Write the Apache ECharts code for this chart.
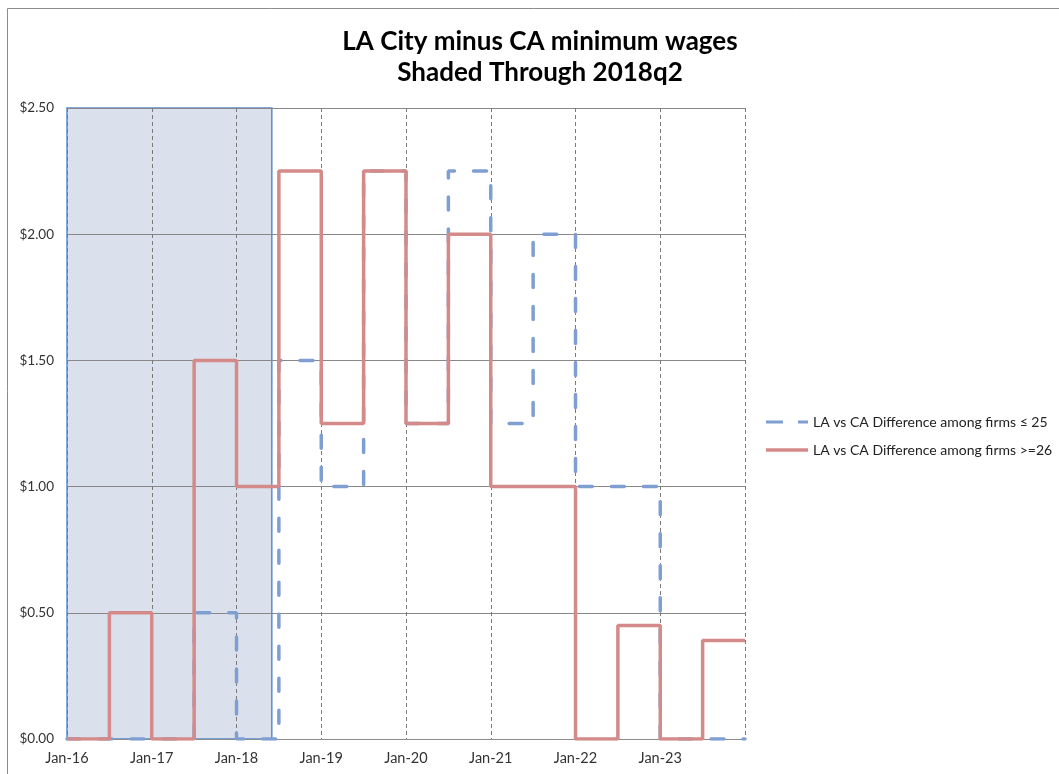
<!DOCTYPE html>
<html>
<head>
<meta charset="utf-8">
<script src="https://cdn.jsdelivr.net/npm/echarts@6/dist/echarts.min.js"></script>
<style>html,body{margin:0;padding:0;background:#fff;}#c{width:1059px;height:774px;}</style>
</head>
<body>
<div id="c"></div>
<script>
// Half-year step points (value holds until the next point)
const periods = ['Jan-16','Jul-16','Jan-17','Jul-17','Jan-18','Jul-18','Jan-19','Jul-19','Jan-20','Jul-20','Jan-21','Jul-21','Jan-22','Jul-22','Jan-23','Jul-23','Jan-24'];
const smallFirms = [0, 0, 0, 0.5, 0, 1.5, 1.0, 2.25, 1.25, 2.25, 1.25, 2.0, 1.0, 1.0, 0, 0, 0];
const largeFirms = [0, 0.5, 0, 1.5, 1.0, 2.25, 1.25, 2.25, 1.25, 2.0, 1.0, 1.0, 0, 0.45, 0, 0.39, 0.39];
const tickLabels = ['Jan-16','Jan-17','Jan-18','Jan-19','Jan-20','Jan-21','Jan-22','Jan-23'];
const yTicks = [0, 0.5, 1.0, 1.5, 2.0, 2.5];
const shadeStart = 'Jan-16';
const shadeEnd = 'Jun-18';
const seriesNames = ['LA vs CA Difference among firms \u2264 25', 'LA vs CA Difference among firms >=26'];

const monthNames = ['Jan','Feb','Mar','Apr','May','Jun','Jul','Aug','Sep','Oct','Nov','Dec'];
function monthIndex(lbl) {
  const [m, y] = lbl.split('-');
  return (parseInt(y, 10) - 16) * 12 + monthNames.indexOf(m);
}
const xs = periods.map(monthIndex);
const smallData = xs.map((x, i) => [x, smallFirms[i]]);
const largeData = xs.map((x, i) => [x, largeFirms[i]]);

const BLUE = '#7f9fd3';
const RED = '#d48a89';
const FONT = 'Lato, "Liberation Sans", sans-serif';
const chart = echarts.init(document.getElementById('c'), null, {renderer: 'canvas'});
chart.setOption({
  backgroundColor: '#fff',
  animation: false,
  graphic: [{
    type: 'rect', left: 7, top: 8, z: -10,
    shape: {width: 1100, height: 800},
    style: {fill: '#fff', stroke: '#8c8c8c', lineWidth: 1}
  }],
  title: {
    text: 'LA City minus CA minimum wages\nShaded Through 2018q2',
    left: 535, textAlign: 'center', top: 21,
    textStyle: {fontFamily: FONT, fontWeight: 'bold', fontSize: 26, color: '#000', lineHeight: 31}
  },
  legend: {
    data: [
      {name: seriesNames[0], icon: 'path://M0,0h17v3h-17zM32,0h10v3h-10z'},
      {name: seriesNames[1], icon: 'rect'}
    ],
    orient: 'vertical',
    left: 766, top: 413, padding: 0,
    itemWidth: 42, itemHeight: 3.5, itemGap: 10,
    textStyle: {fontFamily: FONT, fontSize: 14, lineHeight: 18, color: '#222'}
  },
  grid: {left: 67, right: 314, top: 108, bottom: 35, containLabel: false},
  xAxis: {
    type: 'value', min: 0, max: 96, interval: 12, zlevel: 1,
    axisLine: {show: true, lineStyle: {color: '#8c8c8c', width: 1}},
    axisTick: {show: false},
    axisLabel: {
      margin: 12, fontFamily: FONT, fontSize: 14.5, color: '#333',
      formatter: v => (v / 12 < tickLabels.length ? tickLabels[v / 12] : '')
    },
    splitLine: {show: true, lineStyle: {color: '#7a7a7a', type: [4, 3], width: 1}}
  },
  yAxis: {
    type: 'value', min: yTicks[0], max: yTicks[yTicks.length - 1], interval: 0.5, zlevel: 1,
    axisLine: {show: false},
    axisTick: {show: false},
    axisLabel: {
      margin: 13, fontFamily: FONT, fontSize: 13.5, color: '#333',
      formatter: v => '$' + v.toFixed(2)
    },
    splitLine: {show: true, lineStyle: {color: '#888', width: 1}}
  },
  series: [
    {
      type: 'line', zlevel: 0, data: [], silent: true,
      markArea: {
        silent: true,
        itemStyle: {color: '#dbe1ec', borderColor: '#5b8ccf', borderWidth: 1.5},
        data: [[{xAxis: monthIndex(shadeStart), yAxis: yTicks[0]}, {xAxis: monthIndex(shadeEnd), yAxis: yTicks[yTicks.length - 1]}]]
      }
    },
    {
      name: seriesNames[0], type: 'line', step: 'end', data: smallData,
      symbol: 'none', zlevel: 2, z: 3,
      lineStyle: {color: BLUE, width: 3.5, type: [13, 19], cap: 'round'},
      itemStyle: {color: BLUE}
    },
    {
      name: seriesNames[1], type: 'line', step: 'end', data: largeData,
      symbol: 'none', zlevel: 2, z: 4,
      lineStyle: {color: RED, width: 3.5},
      itemStyle: {color: RED}
    }
  ]
});
</script>
</body>
</html>
